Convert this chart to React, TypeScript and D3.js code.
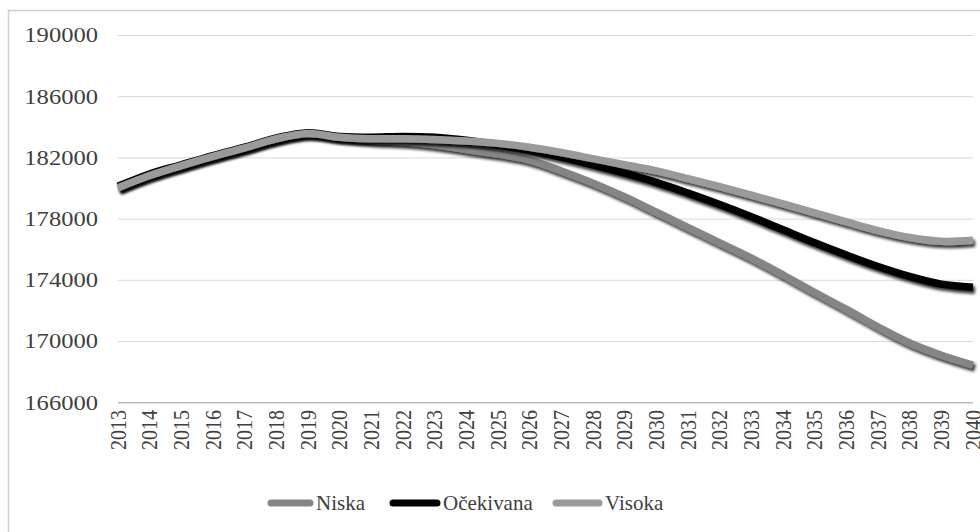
import React from "react";
import * as d3 from "d3";

const years = d3.range(2013, 2041).map(String);
const niska = [180050, 180850, 181500, 182100, 182650, 183250, 183600, 183350, 183150, 183050, 182850, 182550, 182250, 181850, 181150, 180350, 179450, 178450, 177450, 176450, 175450, 174350, 173200, 172100, 170950, 169900, 169100, 168450];
const ocekivana = [180150, 180950, 181550, 182150, 182700, 183300, 183650, 183400, 183350, 183400, 183350, 183150, 182850, 182500, 182050, 181550, 181000, 180400, 179700, 178950, 178150, 177300, 176450, 175650, 174900, 174250, 173750, 173550];
const visoka = [180050, 180850, 181500, 182100, 182650, 183250, 183600, 183350, 183250, 183250, 183200, 183100, 182950, 182700, 182350, 181950, 181550, 181150, 180650, 180120, 179570, 178990, 178400, 177820, 177250, 176800, 176550, 176620];
const yTicks = [166000, 170000, 174000, 178000, 182000, 186000, 190000];
const seriesNames = ["Niska", "Očekivana", "Visoka"];
const seriesColors = ["#858585", "#000000", "#9a9a9a"];

const W = 980;
const H = 532;
const FONT = "Liberation Serif, Times New Roman, serif";
const SX = 1.17;

export default function App() {
  const x = d3.scalePoint<string>().domain(years).range([118, 973]);
  const y = d3.scaleLinear().domain([166000, 190000]).range([402.7, 35.5]);
  const line = d3
    .line<number>()
    .x((_, i) => x(years[i]) as number)
    .y((d) => y(d))
    .curve(d3.curveCatmullRom.alpha(0.5));
  const allSeries = [niska, ocekivana, visoka];
  const legendX = [268, 390, 553];
  const legendTextX = [316, 443, 605];
  const legendY = 503;

  return (
    <svg
      width={W}
      height={H}
      style={{ position: "absolute", left: 0, top: 0, background: "#fff", fontFamily: FONT }}
    >
      <defs>
        <filter id="sh" x="-5%" y="-20%" width="110%" height="140%">
          <feGaussianBlur in="SourceAlpha" stdDeviation="1.7" />
          <feOffset dx="1.5" dy="2.5" result="ob" />
          <feComponentTransfer>
            <feFuncA type="linear" slope="0.8" />
          </feComponentTransfer>
          <feMerge>
            <feMergeNode />
            <feMergeNode in="SourceGraphic" />
          </feMerge>
        </filter>
      </defs>
      <rect x={0} y={0} width={W} height={H} fill="#fff" />
      <rect x={8.5} y={10.5} width={1200} height={800} fill="none" stroke="#cfcfcf" strokeWidth={1.5} />
      {yTicks.map((t) => (
        <g key={t}>
          <line
            x1={118}
            x2={973}
            y1={y(t)}
            y2={y(t)}
            stroke={t === 166000 ? "#bdbdbd" : "#d9d9d9"}
            strokeWidth={t === 166000 ? 1.5 : 1}
          />
          <text
            transform={`translate(98,${y(t)}) scale(${SX},1)`}
            textAnchor="end"
            dominantBaseline="central"
            fontSize={21}
            fill="#404040"
            fontFamily={FONT}
          >
            {t}
          </text>
        </g>
      ))}
      {years.map((yr) => (
        <text
          key={yr}
          transform={`translate(${x(yr)},410) scale(${SX},1) rotate(-90)`}
          textAnchor="end"
          dominantBaseline="central"
          fontSize={20}
          fill="#404040"
          fontFamily={FONT}
        >
          {yr}
        </text>
      ))}
      {allSeries.map((s, i) => (
        <path
          key={i}
          d={line(s) as string}
          fill="none"
          stroke={seriesColors[i]}
          strokeWidth={7.5}
          strokeLinejoin="round"
          filter="url(#sh)"
        />
      ))}
      {seriesNames.map((n, i) => (
        <g key={n}>
          <line
            x1={legendX[i] + 3}
            x2={legendTextX[i] - 6}
            y1={legendY}
            y2={legendY}
            stroke={seriesColors[i]}
            strokeWidth={7}
            strokeLinecap="round"
          />
          <text
            transform={`translate(${legendTextX[i]},${legendY}) scale(1.05,1)`}
            dominantBaseline="central"
            fontSize={20}
            fill="#404040"
            fontFamily={FONT}
          >
            {n}
          </text>
        </g>
      ))}
    </svg>
  );
}
